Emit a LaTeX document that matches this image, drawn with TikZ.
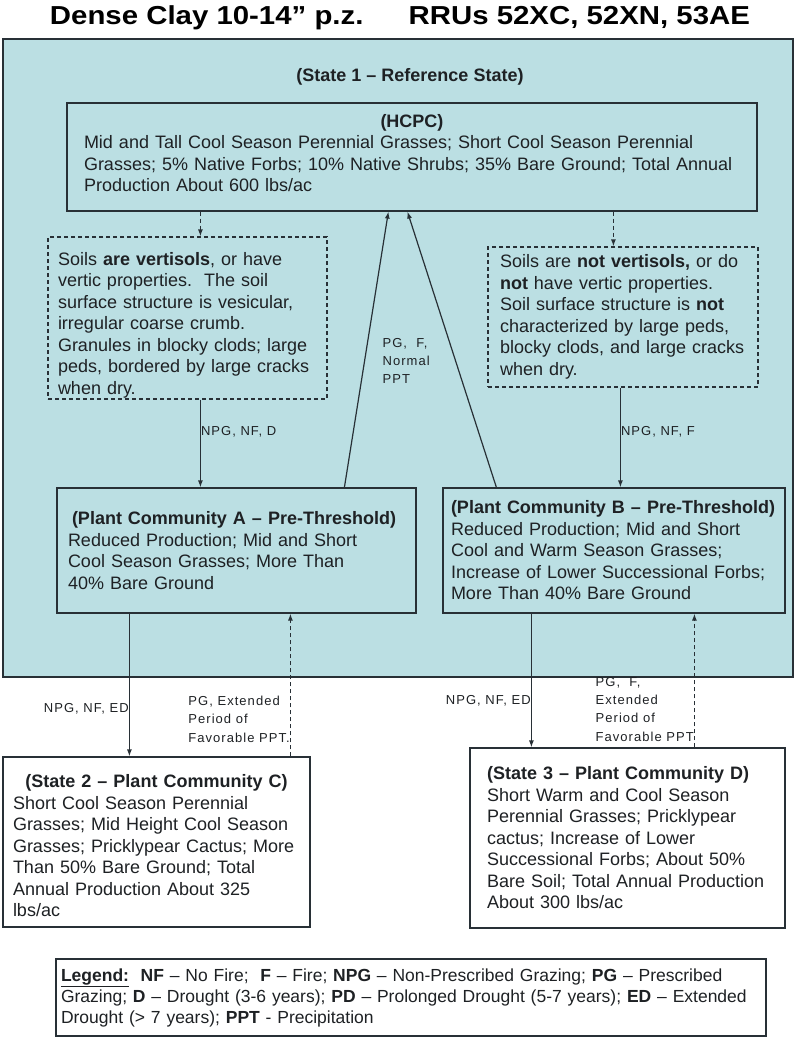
\documentclass[tikz,border=0pt]{standalone}
\usepackage{fontspec}
\setmainfont{Liberation Sans}
\newfontfamily\lblfont{Liberation Sans}[LetterSpace=8.0]
\usepackage{graphicx}
\usetikzlibrary{arrows.meta}

\definecolor{stateblue}{RGB}{187,223,227}
\definecolor{edgegray}{RGB}{40,48,54}
\definecolor{inkgray}{RGB}{30,33,36}

\begin{document}
\begin{tikzpicture}[x=1pt, y=-1pt]
	\tikzset {>={Latex[length=7pt,width=5pt]}, every path/.style={draw=edgegray, line width=1.2pt},
		box/.style={draw=edgegray, line width=1.2pt, inner ysep=0pt, align=left, text=inkgray, font=\fontsize{18}{21.5}\selectfont},
		dbox/.style={box, dash pattern=on 4pt off 3pt},
		lbl/.style={font=\lblfont\fontsize{13}{18.3}\selectfont, text=inkgray, inner sep=0pt, align=left},
		dsh/.style={dash pattern=on 4pt off 3pt} }
	
	\path[fill=white, draw=none, use as bounding box] (0,0) rectangle (800,1044);
	
	\node[anchor=base, text=black, font=\fontsize{26}{30}\selectfont\bfseries] (title) at (400,24) {\scalebox{1.13}[1]{Dense Clay 10-14” p.z.\hspace{40pt}RRUs 52XC, 52XN, 53AE}};
	
	% state 1
	\node[draw=edgegray, line width=1.4pt, fill=stateblue, minimum width=790pt, minimum height=638pt, inner sep=0pt] (ref) at (398,358) {};
	\node[text=inkgray, font=\fontsize{18}{21.5}\selectfont\bfseries] (s1) at (410,77) {(State 1 – Reference State)};
	
	\node[box, fill=stateblue, minimum width=690pt, minimum height=108pt, inner xsep=17pt, text width=656pt] (hcpc) at (412,157) {\makebox[\linewidth]{\bfseries (HCPC)}\\
		Mid and Tall Cool Season Perennial Grasses; Short Cool Season Perennial\\
		Grasses; 5\% Native Forbs; 10\% Native Shrubs; 35\% Bare Ground; Total Annual\\
		Production About 600 lbs/ac\par\vspace{8pt}};
	\node[dbox, minimum width=279pt, minimum height=162pt, inner xsep=10pt, text width=259pt] (soilA) at (187.5,318) {\rule{0pt}{27pt}Soils \textbf{are vertisols}, or have\\
		vertic properties.\ \ The soil\\
		surface structure is vesicular,\\
		irregular coarse crumb.\\
		Granules in blocky clods; large\\
		peds, bordered by large cracks\\
		when dry.};
	\node[dbox, minimum width=270pt, minimum height=140pt, inner xsep=12pt, text width=246pt] (soilB) at (623,317) {Soils are \textbf{not vertisols,} or do\\
		\textbf{not} have vertic properties.\\
		Soil surface structure is \textbf{not}\\
		characterized by large peds,\\
		blocky clods, and large cracks\\
		when dry.};
	\node[box, fill=stateblue, minimum width=359pt, minimum height=125pt, inner xsep=11pt, text width=337pt] (pcA) at (236.5,550.5) {\hspace*{4pt}\textbf{(Plant Community A – Pre-Threshold)}\\
		Reduced Production; Mid and Short\\
		Cool Season Grasses; More Than\\
		40\% Bare Ground};
	\node[box, fill=stateblue, minimum width=342pt, minimum height=125pt, inner xsep=8pt, text width=326pt] (pcB) at (614,550.5) {\textbf{(Plant Community B – Pre-Threshold)}\\
		Reduced Production; Mid and Short\\
		Cool and Warm Season Grasses;\\
		Increase of Lower Successional Forbs;\\
		More Than 40\% Bare Ground};
	
	% state 2 and state 3
	\node[box, fill=white, minimum width=307pt, minimum height=170pt, inner xsep=10pt, text width=287pt] (pcC) at (156.5,842) {\makebox[\linewidth]{\rule{0pt}{21pt}\bfseries (State 2 – Plant Community C)}\\
		Short Cool Season Perennial\\
		Grasses; Mid Height Cool Season\\
		Grasses; Pricklypear Cactus; More\\
		Than 50\% Bare Ground; Total\\
		Annual Production About 325\\
		lbs/ac};
	\node[box, fill=white, minimum width=315pt, minimum height=180pt, inner xsep=15pt, text width=285pt] (pcD) at (627.5,838) {\hspace*{2pt}\textbf{(State 3 – Plant Community D)}\\
		\hspace*{2pt}Short Warm and Cool Season\\
		\hspace*{2pt}Perennial Grasses; Pricklypear\\
		\hspace*{2pt}cactus; Increase of Lower\\
		\hspace*{2pt}Successional Forbs; About 50\%\\
		\hspace*{2pt}Bare Soil; Total Annual Production\\
		\hspace*{2pt}About 300 lbs/ac};
	
	\node[box, fill=white, minimum width=710pt, minimum height=77pt, inner xsep=5pt, text width=700pt, font=\fontsize{17.5}{21}\selectfont] (leg) at (411,997.5) {\mbox{\textbf{\underline{Legend:}}\ \ \textbf{NF} – No Fire;\ \ \textbf{F} – Fire; \textbf{NPG} – Non-Prescribed Grazing; \textbf{PG} – Prescribed}\\
		\mbox{Grazing; \textbf{D} – Drought (3-6 years); \textbf{PD} – Prolonged Drought (5-7 years); \textbf{ED} – Extended}\\
		\mbox{Drought (> 7 years); \textbf{PPT} - Precipitation}};
	
	% transitions
	\draw[dsh, ->] ([xshift=153pt]soilA.north west |- hcpc.south) -- ([xshift=153pt]soilA.north west);
	\draw[dsh, ->] ([xshift=126pt]soilB.north west |- hcpc.south) -- ([xshift=126pt]soilB.north west);
	\draw[->] ([xshift=144pt]pcA.north west |- soilA.south) -- node[lbl, right, pos=0.37] {NPG, NF, D} ([xshift=144pt]pcA.north west);
	\draw[->] ([xshift=178pt]pcB.north west |- soilB.south) -- node[lbl, right, pos=0.44] {NPG, NF, F} ([xshift=178pt]pcB.north west);
	\draw[->] ([xshift=288pt]pcA.north west) -- ([xshift=322pt]hcpc.south west);
	\draw[->] ([xshift=54pt]pcB.north west) -- ([xshift=341pt]hcpc.south west);
	\node[lbl, anchor=west] (ppt) at (382,361) {PG,\ \ F,\\Normal\\PPT};
	
	\draw[->] ([xshift=73pt]pcA.south west) -- node[lbl, left, pos=0.67] {NPG, NF, ED} ([xshift=73pt]pcA.south west |- pcC.north);
	\draw[dsh, ->] ([xshift=288pt]pcC.north west) -- node[lbl, left, pos=0.26] {PG, Extended\\Period of\\Favorable PPT.} ([xshift=288pt]pcC.north west |- pcA.south);
	\draw[->] ([xshift=89pt]pcB.south west) -- node[lbl, left, pos=0.65] {NPG, NF, ED} ([xshift=89pt]pcB.south west |- pcD.north);
	\draw[dsh, ->] ([xshift=225pt]pcD.north west) -- node[lbl, left, pos=0.285] {PG,\ \ F,\\Extended\\Period of\\Favorable PPT} ([xshift=225pt]pcD.north west |- pcB.south);
\end{tikzpicture}
\end{document}
